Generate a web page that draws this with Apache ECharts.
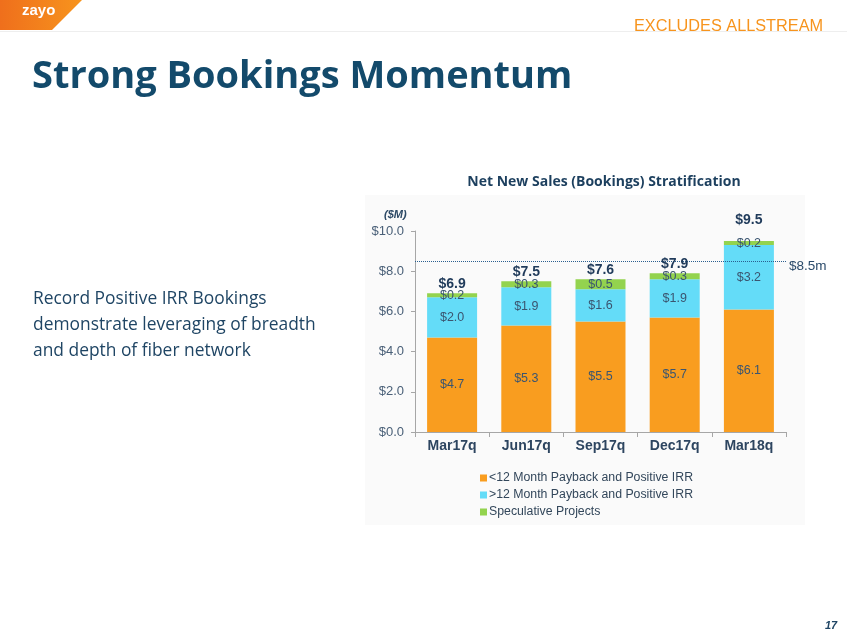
<!DOCTYPE html>
<html>
<head>
<meta charset="utf-8">
<script src="https://cdn.jsdelivr.net/npm/echarts@6/dist/echarts.min.js"></script>
<style>
html,body{margin:0;padding:0;background:#fff;}
#c{width:847px;height:635px;}
</style>
</head>
<body>
<div id="c"></div>
<script>
var categories = ['Mar17q', 'Jun17q', 'Sep17q', 'Dec17q', 'Mar18q'];
var shortPayback = [4.7, 5.3, 5.5, 5.7, 6.1];
var longPayback = [2.0, 1.9, 1.6, 1.9, 3.2];
var speculative = [0.2, 0.3, 0.5, 0.3, 0.2];
var totals = [6.9, 7.5, 7.6, 7.9, 9.5];
var yTicks = [0, 2, 4, 6, 8, 10];
var targetLine = 8.5;
var seriesNames = ['<12 Month Payback and Positive IRR', '>12 Month Payback and Positive IRR', 'Speculative Projects'];

var chart = echarts.init(document.getElementById('c'), null, {renderer: 'canvas'});
var segLabel = {show: true, position: 'inside', color: '#3b5570', fontSize: 12.5, fontFamily: 'Arial, Liberation Sans',
  formatter: function (p) { return '$' + p.value.toFixed(1); }};

// the last total label sits higher, clear of the dotted target line
var totalData = totals.map(function (v, i) {
  return i === totals.length - 1 ? {value: v, label: {distance: 13}} : v;
});

chart.setOption({
  animation: false,
  backgroundColor: '#ffffff',
  graphic: [
    {type: 'rect', left: 365, top: 195, shape: {width: 440, height: 330}, style: {fill: '#fafafa'}, z: -10},
    {type: 'polygon', shape: {points: [[0, 0], [82, 0], [52, 30], [0, 30]]},
      style: {fill: new echarts.graphic.LinearGradient(0, 0, 1, 0, [{offset: 0, color: '#ef6f1c'}, {offset: 1, color: '#f7941d'}])}},
    {type: 'text', left: 22, top: 3, style: {text: 'zayo', fill: '#ffffff', font: 'bold 15px Arial, Liberation Sans'}},
    {type: 'rect', left: 0, top: 31, shape: {width: 847, height: 1}, style: {fill: '#eeeeee'}},
    {type: 'text', left: 634, top: 19, style: {text: 'EXCLUDES ALLSTREAM', fill: '#f7941d', font: '16.3px Arial, Liberation Sans'}},
    {type: 'text', left: 32, top: 58, style: {text: 'Strong Bookings Momentum', fill: '#134a6b', font: 'bold 38px "Open Sans", "Noto Sans"'}},
    {type: 'text', left: 33, top: 286, style: {text: 'Record Positive IRR Bookings\ndemonstrate leveraging of breadth\nand depth of fiber network', fill: '#1f4564', font: '17.4px "Open Sans", "Noto Sans"', lineHeight: 26}},
    {type: 'text', x: 604, y: 175, style: {text: 'Net New Sales (Bookings) Stratification', fill: '#1c3f5e', font: 'bold 14px "Open Sans", "Noto Sans"', textAlign: 'center'}},
    {type: 'text', left: 384, top: 209, style: {text: '($M)', fill: '#2d4a66', font: 'italic bold 11px Arial, Liberation Sans'}},
    {type: 'text', left: 825, top: 620, style: {text: '17', fill: '#1f4564', font: 'italic bold 11px Arial, Liberation Sans'}}
  ],
  grid: {left: 415, right: 61, top: 231, bottom: 203, containLabel: false},
  legend: {
    orient: 'vertical', left: 475, top: 467, itemWidth: 7, itemHeight: 7, itemGap: 5, icon: 'rect',
    data: seriesNames,
    textStyle: {color: '#33475b', fontSize: 12.3, fontFamily: 'Arial, Liberation Sans', padding: [0, 0, 0, -3]}
  },
  xAxis: {
    type: 'category', data: categories,
    axisLine: {lineStyle: {color: '#a6a6a6'}},
    axisTick: {show: true, alignWithLabel: false, length: 5, inside: false, lineStyle: {color: '#a6a6a6'}},
    axisLabel: {color: '#2d4560', fontSize: 14, fontWeight: 'bold', fontFamily: 'Arial, Liberation Sans', margin: 7}
  },
  yAxis: {
    type: 'value', min: yTicks[0], max: yTicks[yTicks.length - 1], interval: 2,
    splitLine: {show: false},
    axisLine: {show: true, lineStyle: {color: '#a6a6a6'}},
    axisTick: {show: true, length: 4, lineStyle: {color: '#a6a6a6'}},
    axisLabel: {color: '#4a6078', fontSize: 13, fontFamily: 'Arial, Liberation Sans', margin: 11,
      formatter: function (v) { return '$' + v.toFixed(1); }}
  },
  series: [
    {name: seriesNames[0], type: 'bar', stack: 's', data: shortPayback, barWidth: 50,
      itemStyle: {color: '#f99d1f'}, label: segLabel,
      markLine: {silent: true, symbol: 'none', data: [{yAxis: targetLine}],
        lineStyle: {type: 'dotted', color: '#2a5f8f', width: 1},
        label: {position: 'end', formatter: '$8.5m', color: '#2a4a6a', fontSize: 13.5, fontFamily: 'Arial, Liberation Sans', distance: 3, offset: [0, 5]}}},
    {name: seriesNames[1], type: 'bar', stack: 's', data: longPayback, barWidth: 50,
      itemStyle: {color: '#64dcf8'}, label: segLabel},
    {name: seriesNames[2], type: 'bar', stack: 's', data: speculative, barWidth: 50,
      itemStyle: {color: '#93d34e'}, label: segLabel},
    {name: 'total', type: 'line', data: totalData, symbol: 'circle', symbolSize: 1, showSymbol: true,
      itemStyle: {color: 'rgba(0,0,0,0)'}, lineStyle: {opacity: 0}, silent: true, z: 10,
      label: {show: true, position: 'top', distance: 2, color: '#1f3a5a', fontSize: 14, fontWeight: 'bold', fontFamily: 'Arial, Liberation Sans',
        formatter: function (p) { return '$' + p.value.toFixed(1); }}}
  ]
});
</script>
</body>
</html>
